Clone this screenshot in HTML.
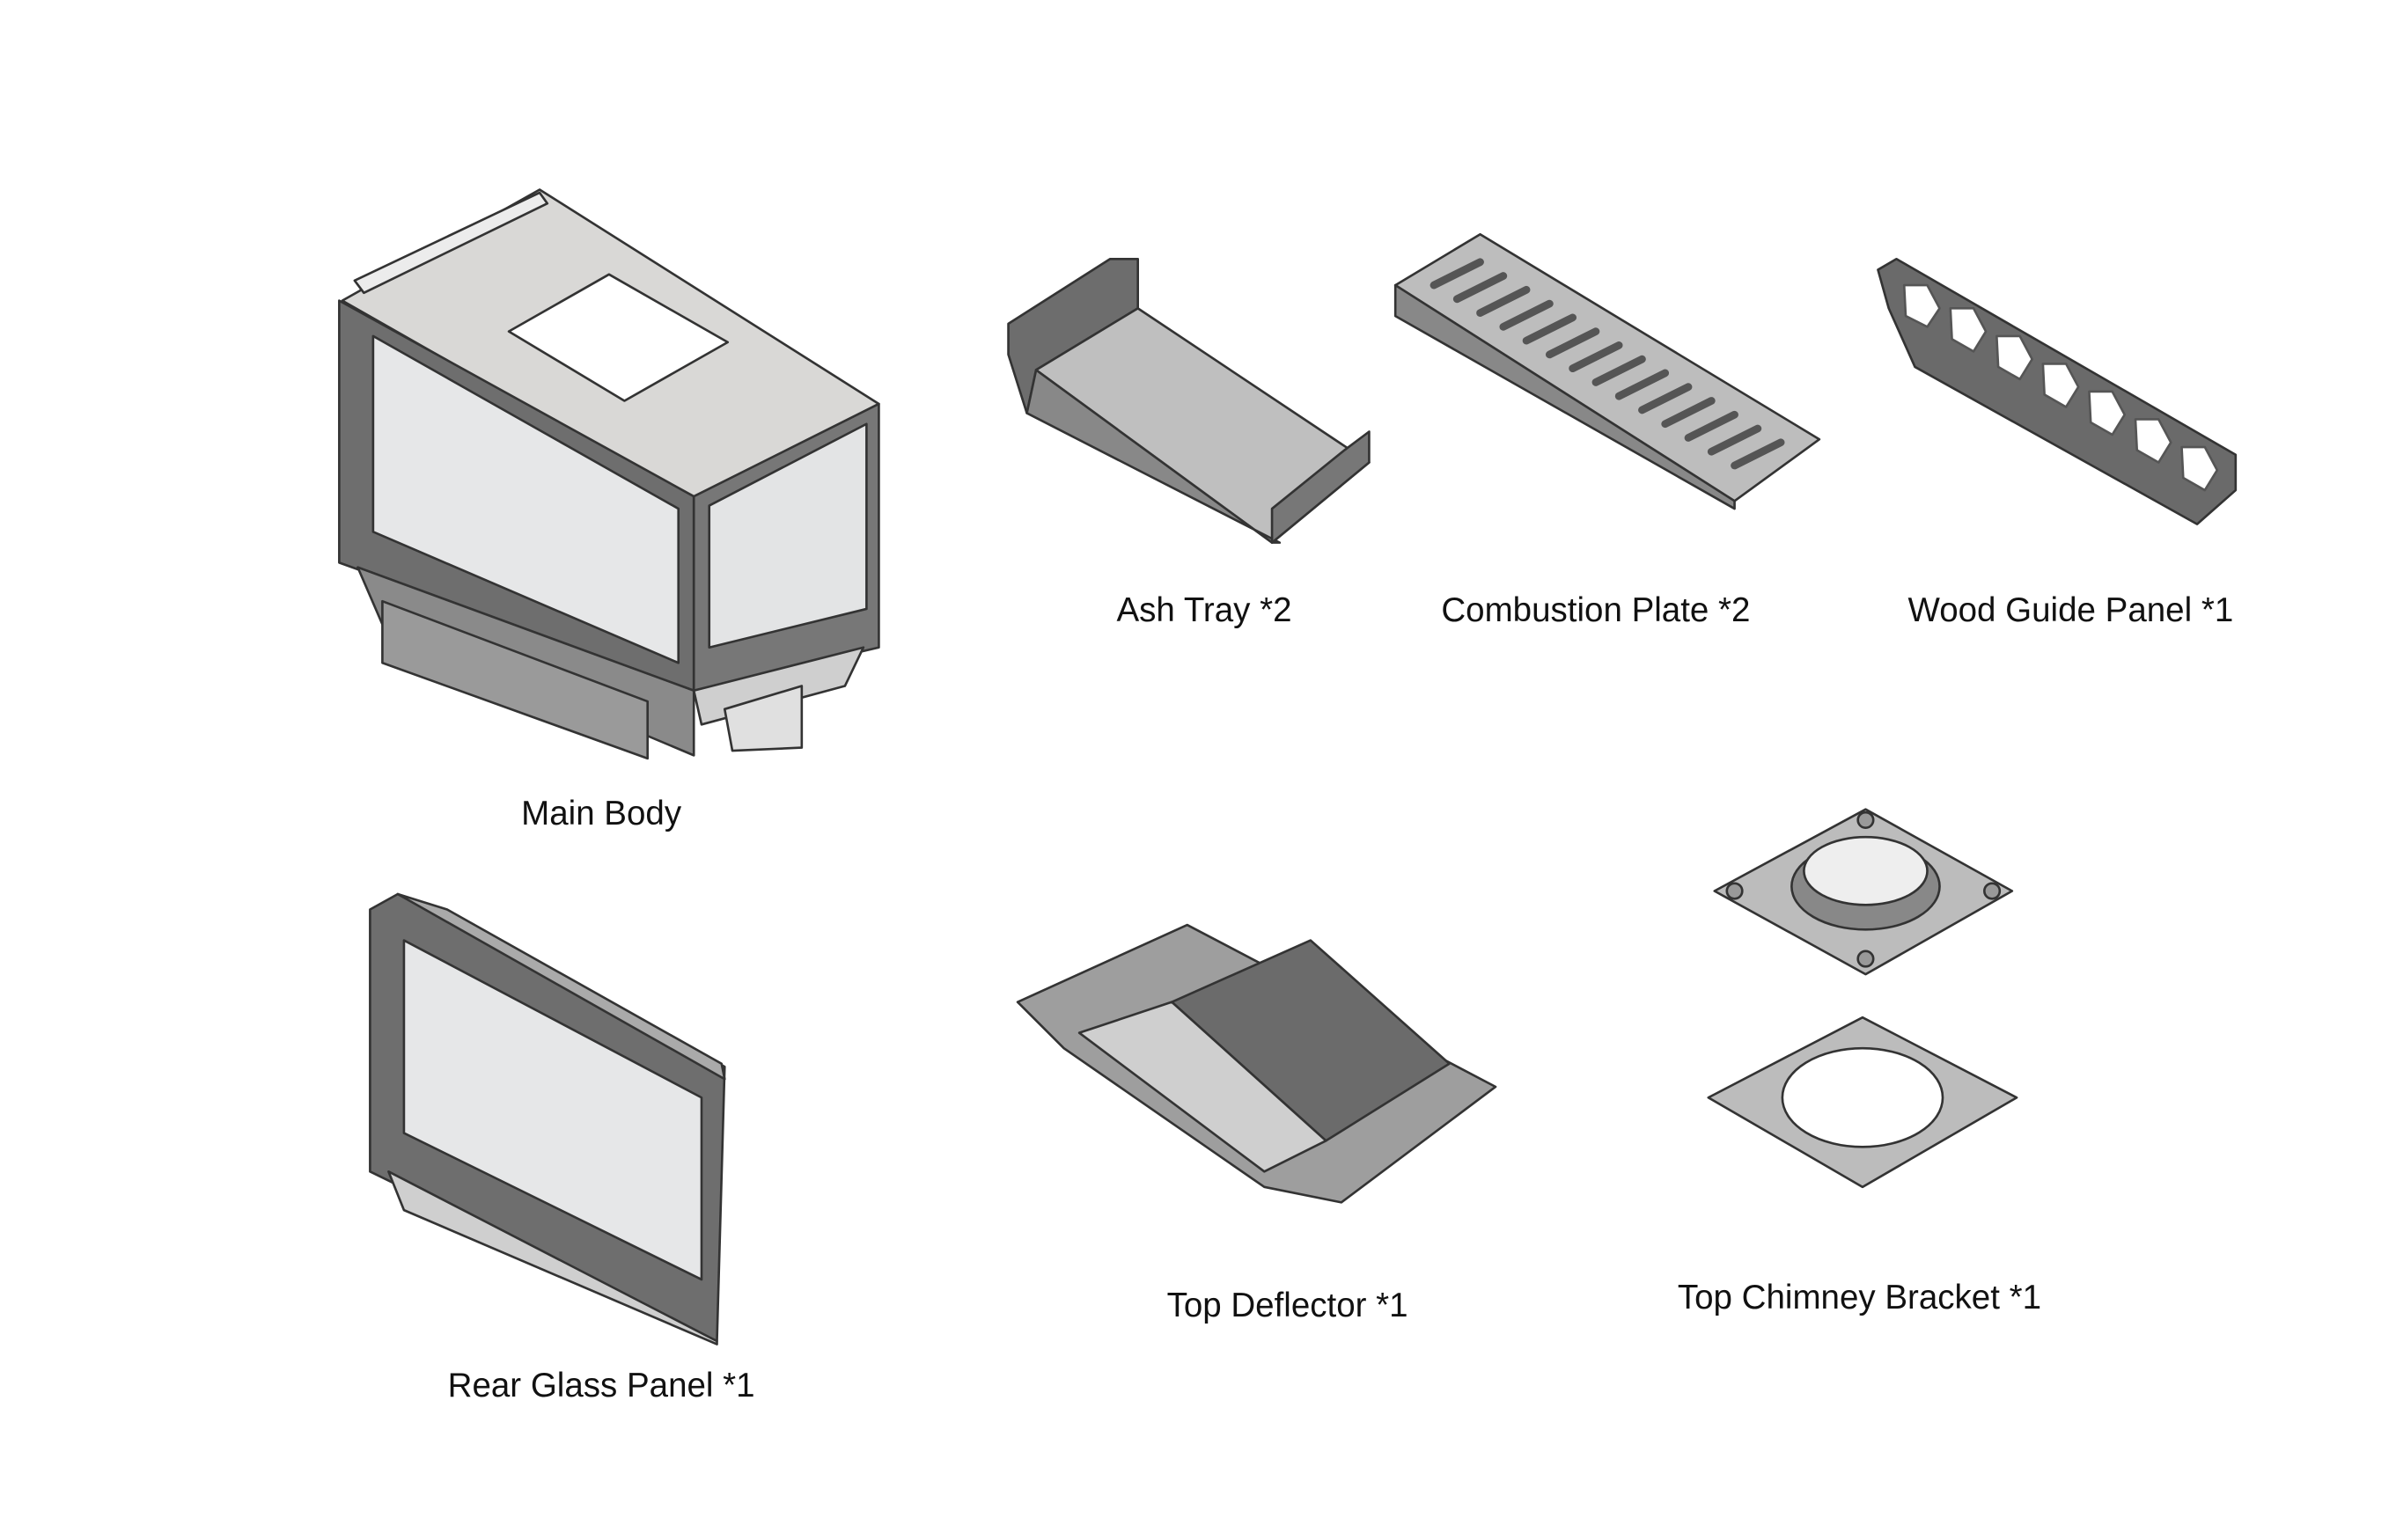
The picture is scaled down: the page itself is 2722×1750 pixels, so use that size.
<!DOCTYPE html>
<html><head><meta charset="utf-8"><style>
html,body{margin:0;padding:0;background:#fff}
svg{display:block}
text{font-family:"Liberation Sans",sans-serif;font-size:22px;fill:#111;text-anchor:middle}
</style></head><body>
<svg width="2722" height="1750" viewBox="0 0 1554 999" preserveAspectRatio="none" xmlns="http://www.w3.org/2000/svg">
<g stroke="#333" stroke-width="1.5" stroke-linejoin="round">
<!-- Main body -->
<polygon points="222,195 350,123 570,262 450,325" fill="#d9d8d6"/>
<polygon points="330,215 395,178 472,222 405,260" fill="#fff"/>
<polygon points="220,195 450,322 450,448 220,365" fill="#6e6e6e"/>
<polygon points="242,218 440,330 440,430 242,345" fill="#e6e7e8"/>
<polygon points="450,322 570,262 570,420 450,448" fill="#777"/>
<polygon points="460,328 562,275 562,395 460,420" fill="#e3e4e5"/>
<polygon points="232,368 450,448 450,490 248,405" fill="#8a8a8a"/>
<polygon points="248,390 420,455 420,492 248,430" fill="#9a9a9a"/>
<polygon points="450,448 560,420 548,445 455,470" fill="#cfcfcf"/>
<polygon points="470,460 520,445 520,485 475,487" fill="#e0e0e0"/>
<polygon points="230,182 350,125 355,132 236,190" fill="#ececec"/>
<!-- Ash tray -->
<polygon points="654,210 720,168 738,168 738,200 672,240 666,268 654,230" fill="#6d6d6d"/>
<polygon points="672,240 738,200 888,300 825,352 " fill="#bfbfbf"/>
<polygon points="672,240 825,352 830,352 666,268" fill="#888"/>
<polygon points="825,352 888,300 888,280 872,292 825,330" fill="#777"/>
<!-- Combustion plate -->
<polygon points="905,185 960,152 1180,285 1125,325" fill="#bdbdbd"/>
<polygon points="905,185 905,205 1125,330 1125,325" fill="#888"/>
<g stroke="#555" stroke-width="5" stroke-linecap="round">
<line x1="930" y1="185" x2="960" y2="170"/><line x1="945" y1="194" x2="975" y2="179"/>
<line x1="960" y1="203" x2="990" y2="188"/><line x1="975" y1="212" x2="1005" y2="197"/>
<line x1="990" y1="221" x2="1020" y2="206"/><line x1="1005" y1="230" x2="1035" y2="215"/>
<line x1="1020" y1="239" x2="1050" y2="224"/><line x1="1035" y1="248" x2="1065" y2="233"/>
<line x1="1050" y1="257" x2="1080" y2="242"/><line x1="1065" y1="266" x2="1095" y2="251"/>
<line x1="1080" y1="275" x2="1110" y2="260"/><line x1="1095" y1="284" x2="1125" y2="269"/>
<line x1="1110" y1="293" x2="1140" y2="278"/><line x1="1125" y1="302" x2="1155" y2="287"/>
</g>
<!-- Wood guide -->
<polygon points="1218,175 1230,168 1450,295 1450,318 1425,340 1242,238 1225,200" fill="#6a6a6a"/>
<g fill="#fff" stroke="#555">
<polygon points="1235,185 1250,185 1258,200 1250,212 1236,205"/>
<polygon points="1265,200 1280,200 1288,215 1280,228 1266,220"/>
<polygon points="1295,218 1310,218 1318,233 1310,246 1296,238"/>
<polygon points="1325,236 1340,236 1348,251 1340,264 1326,256"/>
<polygon points="1355,254 1370,254 1378,269 1370,282 1356,274"/>
<polygon points="1385,272 1400,272 1408,287 1400,300 1386,292"/>
<polygon points="1415,290 1430,290 1438,305 1430,318 1416,310"/>
</g>
<!-- Rear glass -->
<polygon points="240,590 258,580 470,692 465,870 240,760" fill="#6e6e6e"/>
<polygon points="262,610 455,712 455,830 262,735" fill="#e6e7e8"/>
<polygon points="252,760 465,870 465,872 262,785" fill="#cfcfcf"/>
<polygon points="258,580 290,590 468,690 470,700" fill="#aaa"/>
<!-- Top deflector -->
<polygon points="660,650 770,600 970,705 870,780 820,770 690,680" fill="#9e9e9e"/>
<polygon points="760,650 850,610 940,690 860,740" fill="#6b6b6b"/>
<polygon points="700,670 760,650 860,740 820,760" fill="#cfcfcf"/>
<!-- Chimney bracket top -->
<polygon points="1112,578 1210,525 1305,578 1210,632" fill="#bcbcbc"/>
<ellipse cx="1210" cy="575" rx="48" ry="28" fill="#888"/>
<ellipse cx="1210" cy="565" rx="40" ry="22" fill="#eee"/>
<g fill="#999"><circle cx="1210" cy="532" r="5"/><circle cx="1125" cy="578" r="5"/><circle cx="1292" cy="578" r="5"/><circle cx="1210" cy="622" r="5"/></g>
<!-- Chimney bracket bottom -->
<polygon points="1108,712 1208,660 1308,712 1208,770" fill="#bcbcbc"/>
<ellipse cx="1208" cy="712" rx="52" ry="32" fill="#fff"/>
</g>
<text x="390" y="535">Main Body</text>
<text x="781" y="403">Ash Tray *2</text>
<text x="1035" y="403">Combustion Plate *2</text>
<text x="1343" y="403">Wood Guide Panel *1</text>
<text x="390" y="906">Rear Glass Panel *1</text>
<text x="835" y="854">Top Deflector *1</text>
<text x="1206" y="849">Top Chimney Bracket *1</text>
</svg>
</body></html>
